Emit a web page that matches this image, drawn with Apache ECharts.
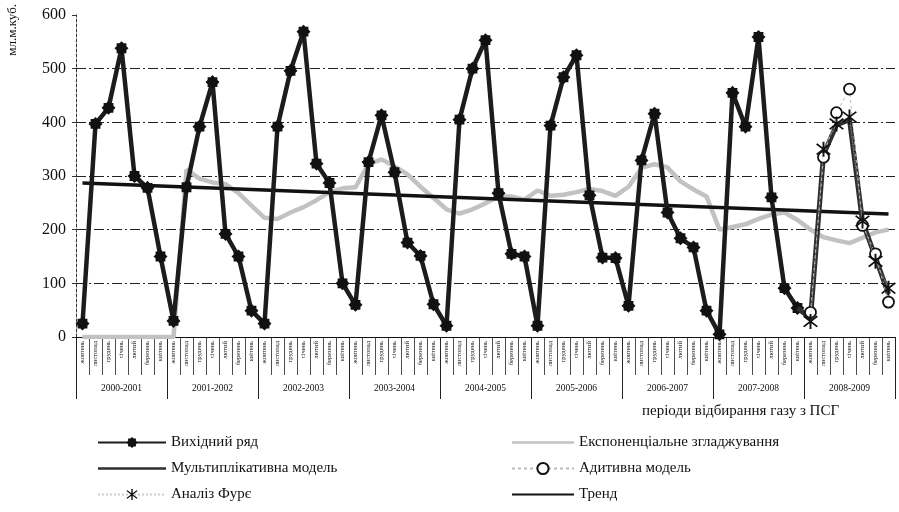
<!DOCTYPE html>
<html>
<head>
<meta charset="utf-8">
<script src="https://cdn.jsdelivr.net/npm/echarts@6/dist/echarts.min.js"></script>
<style>
html,body{margin:0;padding:0;background:#fff;}
#chart{width:899px;height:512px;}
</style>
</head>
<body>
<div id="chart"></div>
<script>
var seasonMonths = ['жовтень','листопад','грудень','січень','лютий','березень','квітень'];
var seasons = ['2000-2001','2001-2002','2002-2003','2003-2004','2004-2005','2005-2006','2006-2007','2007-2008','2008-2009'];
var yTicks = [0,100,200,300,400,500,600];

// Вихідний ряд (seasons 2000-2001 .. 2007-2008)
var original = [
  25, 397, 427, 538, 300, 278, 150,
  30, 279, 392, 475, 192, 150, 49,
  25, 392, 496, 569, 323, 287, 100,
  60, 326, 413, 307, 176, 151, 61,
  21, 405, 500, 553, 268, 155, 150,
  21, 394, 484, 525, 264, 148, 147,
  58, 329, 416, 232, 184, 167, 49,
  5, 455, 392, 559, 260, 91, 54
];
// Експоненціальне згладжування
var expSmooth = [
  0, 0, 0, 0, 0, 0, 0,
  0, 312, 295, 288, 285, 268, 245,
  222, 220, 232, 242, 255, 270, 277,
  279, 322, 331, 318, 303, 280, 259,
  238, 230, 238, 249, 262, 262, 256,
  273, 263, 265, 270, 276, 272, 263,
  280, 315, 322, 316, 290, 275, 262,
  200, 205, 210, 220, 228, 232, 218,
  200, 186, 180, 175, 185, 195, 200
];
// Forecasts for season 2008-2009 (multiplicative starts at the last observation)
var multiplicative = [54, 35, 340, 395, 405, 215, 148, 80];
var additive = [46, 335, 418, 462, 208, 155, 65];
var fourier = [29, 350, 397, 410, 216, 141, 91];
// Тренд: start and end values
var trendStart = 287, trendEnd = 229;

var categories = [];
seasons.forEach(function(){ seasonMonths.forEach(function(m){ categories.push(m); }); });
var n = categories.length;
var forecastStart = original.length; // 56

function placeAt(arr, start){
  var out = [];
  for (var i = 0; i < n; i++) out.push(null);
  arr.forEach(function(v,i){ out[start+i] = v; });
  return out;
}
var trendData = placeAt([trendStart], 0); trendData[n-1] = trendEnd;

var starPath = 'path://M0,-10 L3,-7 L7,-7 L7,-3 L10,0 L7,3 L7,7 L3,7 L0,10 L-3,7 L-7,7 L-7,3 L-10,0 L-7,-3 L-7,-7 L-3,-7 Z';
var asteriskPath = 'path://M-1,10 L1,10 L1,-10 L-1,-10 Z M6.36,7.78 L7.78,6.36 L-6.36,-7.78 L-7.78,-6.36 Z M-7.78,6.36 L-6.36,7.78 L7.78,-6.36 L6.36,-7.78 Z';
function barIcon(th){ var a = (14-th)/2, b = a+th;
  return 'path://M0,0 L0.01,0 L0.01,0.01 Z M0,14 L0.01,14 L0.01,13.99 Z M0,'+a+' L100,'+a+' L100,'+b+' L0,'+b+' Z'; }

var serif = 'Liberation Serif';
var chart = echarts.init(document.getElementById('chart'));
chart.setOption({
  animation: false,
  backgroundColor: '#fff',
  grid: {left: 76, right: 4, top: 15, bottom: 175},
  graphic: [
    {type:'text', left: 6, top: 4, rotation: Math.PI/2,
     style:{text:'мл.м.куб.', font: '13px "Liberation Serif"', fill:'#111'}},
    {type:'text', left: 642, top: 404,
     style:{text:'періоди відбирання газу з ПСГ', font: '15px "Liberation Serif"', fill:'#111'}}
  ],
  legend: [
    {left: 92, top: 430, orient: 'vertical', itemWidth: 68, itemHeight: 14, itemGap: 11,
     textStyle:{fontFamily: serif, fontSize: 15, color:'#111'},
     data: ['Вихідний ряд',
            {name:'Мультиплікативна модель', icon: barIcon(4), itemStyle:{color:'#2e2e2e'}},
            'Аналіз Фурє']},
    {left: 506, top: 430, orient: 'vertical', itemWidth: 62, itemHeight: 14, itemGap: 11,
     textStyle:{fontFamily: serif, fontSize: 15, color:'#111'},
     data: [{name:'Експоненціальне згладжування', icon: barIcon(4), itemStyle:{color:'#c2c2c2'}},
            'Адитивна модель',
            {name:'Тренд', icon: barIcon(3), itemStyle:{color:'#111'}}]}
  ],
  xAxis: [
    {type:'category', data: categories, position:'bottom', boundaryGap: true,
     axisLine:{show:true, lineStyle:{color:'#111', width:1.2}},
     axisTick:{show:true, interval:0, length:38, lineStyle:{color:'#222', width:0.8}},
     axisLabel:{interval:0, rotate:90, fontSize:6.5, fontFamily: serif, color:'#111', margin:4},
     splitLine:{show:false}},
    {type:'category', data: seasons, position:'bottom', boundaryGap: true,
     axisLine:{show:false},
     axisTick:{show:true, interval:0, length:62, lineStyle:{color:'#222', width:1}},
     axisLabel:{interval:0, fontSize:9.5, fontFamily: serif, color:'#111', margin:46},
     splitLine:{show:false}}
  ],
  yAxis: {
    type:'value', min: yTicks[0], max: yTicks[yTicks.length-1], interval: 100,
    axisLine:{show:true, lineStyle:{color:'#333', width:1, type:[3,2]}},
    axisTick:{show:true, length:4, lineStyle:{color:'#333'}},
    axisLabel:{fontSize:16, fontFamily: serif, color:'#111', margin:10},
    splitLine:{show:true, lineStyle:{color:['transparent','#222','#222','#222','#222','#222','transparent'], width:1.2, type:[10,3,2,3]}}
  },
  series: [
    {name:'Експоненціальне згладжування', type:'line', data: expSmooth, xAxisIndex:0,
     symbol:'none', z:1,
     lineStyle:{color:'#c2c2c2', width:4.5}, itemStyle:{color:'#c2c2c2'}},
    {name:'Тренд', type:'line', data: trendData, xAxisIndex:0, connectNulls: true,
     symbol:'none', z:2,
     lineStyle:{color:'#111', width:3.5}, itemStyle:{color:'#111'}},
    {name:'Вихідний ряд', type:'line', data: original, xAxisIndex:0,
     symbol: starPath, symbolSize: 14, z:3,
     lineStyle:{color:'#1c1c1c', width:4.5}, itemStyle:{color:'#111'}},
    {name:'Мультиплікативна модель', type:'line', data: placeAt(multiplicative, forecastStart-1), xAxisIndex:0,
     symbol:'none', z:4,
     lineStyle:{color:'#2e2e2e', width:5}, itemStyle:{color:'#2e2e2e'}},
    {name:'Адитивна модель', type:'line', data: placeAt(additive, forecastStart), xAxisIndex:0,
     symbol:'circle', symbolSize: 11, z:5, showAllSymbol: true,
     lineStyle:{color:'#bbb', width:1, type:[3,3]},
     itemStyle:{color:'#fff', borderColor:'#111', borderWidth:1.8}},
    {name:'Аналіз Фурє', type:'line', data: placeAt(fourier, forecastStart), xAxisIndex:0,
     symbol: asteriskPath, symbolSize: 15, z:6, showAllSymbol: true,
     lineStyle:{color:'#ccc', width:0.8, type:'dotted'}, itemStyle:{color:'#111'}}
  ]
});
</script>
</body>
</html>
